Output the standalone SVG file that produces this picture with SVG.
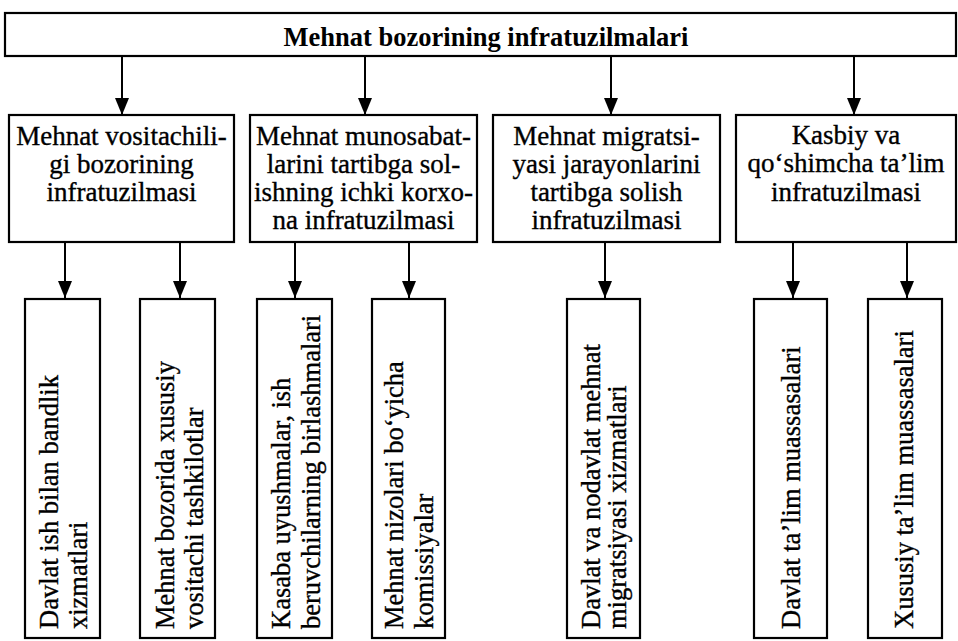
<svg xmlns="http://www.w3.org/2000/svg" width="958" height="641" viewBox="0 0 958 641">
<style>
.box{fill:#fff;stroke:#000;stroke-width:2.2}
.t{font-family:'Liberation Serif','Times New Roman',serif;font-size:27px;fill:#000;stroke:#000;stroke-width:0.35;text-anchor:middle}
.v{font-family:'Liberation Serif','Times New Roman',serif;font-size:26.5px;fill:#000;stroke:#000;stroke-width:0.35}
.title{font-family:'Liberation Serif','Times New Roman',serif;font-size:26.5px;font-weight:bold;fill:#000;text-anchor:middle}
.c{stroke:#000;stroke-width:2;fill:none;marker-end:url(#ah)}
</style>
<defs>
<marker id="ah" markerUnits="userSpaceOnUse" markerWidth="17" markerHeight="14" refX="17" refY="7" orient="auto">
<path d="M0,0 L17,7 L0,14 z" fill="#000"/>
</marker>
</defs>
<rect width="958" height="641" fill="#fff"/>
<g id="connectors">
<line class="c" x1="122" y1="56" x2="122" y2="115"/>
<line class="c" x1="365" y1="56" x2="365" y2="115"/>
<line class="c" x1="611" y1="56" x2="611" y2="115"/>
<line class="c" x1="854" y1="56" x2="854" y2="115"/>
<line class="c" x1="65" y1="242" x2="65" y2="298"/>
<line class="c" x1="180" y1="242" x2="180" y2="298"/>
<line class="c" x1="295" y1="242" x2="295" y2="298"/>
<line class="c" x1="409" y1="242" x2="409" y2="298"/>
<line class="c" x1="605" y1="242" x2="605" y2="298"/>
<line class="c" x1="793" y1="242" x2="793" y2="298"/>
<line class="c" x1="907" y1="242" x2="907" y2="298"/>
</g>
<g id="top">
<rect class="box" x="5" y="13" width="951" height="43"/>
<text class="title" x="486" y="46">Mehnat bozorining infratuzilmalari</text>
</g>
<g id="m1">
<rect class="box" x="9" y="115" width="225" height="127"/>
<text class="t" x="121.5" y="145">Mehnat vositachili-</text>
<text class="t" x="121.5" y="173">gi bozorining</text>
<text class="t" x="121.5" y="201">infratuzilmasi</text>
</g>
<g id="m2">
<rect class="box" x="250" y="115" width="227" height="127"/>
<text class="t" x="363.5" y="145">Mehnat munosabat-</text>
<text class="t" x="363.5" y="173">larini tartibga sol-</text>
<text class="t" x="363.5" y="201">ishning ichki korxo-</text>
<text class="t" x="363.5" y="229">na infratuzilmasi</text>
</g>
<g id="m3">
<rect class="box" x="493" y="115" width="227" height="127"/>
<text class="t" x="606.5" y="145">Mehnat migratsi-</text>
<text class="t" x="606.5" y="173">yasi jarayonlarini</text>
<text class="t" x="606.5" y="201">tartibga solish</text>
<text class="t" x="606.5" y="229">infratuzilmasi</text>
</g>
<g id="m4">
<rect class="box" x="736" y="115" width="220" height="127"/>
<text class="t" x="846" y="144">Kasbiy va</text>
<text class="t" x="846" y="172">qo‘shimcha ta’lim</text>
<text class="t" x="846" y="201">infratuzilmasi</text>
</g>
<g id="bA">
<rect class="box" x="25" y="299" width="75" height="339"/>
<text class="v" transform="translate(58,629) rotate(-90)">Davlat ish bilan bandlik</text>
<text class="v" transform="translate(87,629) rotate(-90)">xizmatlari</text>
</g>
<g id="bB">
<rect class="box" x="140" y="299" width="75" height="339"/>
<text class="v" transform="translate(174,629) rotate(-90)">Mehnat bozorida xususiy</text>
<text class="v" transform="translate(203,629) rotate(-90)">vositachi tashkilotlar</text>
</g>
<g id="bC">
<rect class="box" x="257" y="299" width="75" height="339"/>
<text class="v" transform="translate(290,629) rotate(-90)">Kasaba uyushmalar, ish</text>
<text class="v" transform="translate(320,629) rotate(-90)">beruvchilarning birlashmalari</text>
</g>
<g id="bD">
<rect class="box" x="372" y="299" width="73" height="339"/>
<text class="v" transform="translate(403,629) rotate(-90)">Mehnat nizolari bo‘yicha</text>
<text class="v" transform="translate(433,629) rotate(-90)">komissiyalar</text>
</g>
<g id="bE">
<rect class="box" x="567" y="299" width="73" height="339"/>
<text class="v" transform="translate(600,629) rotate(-90)">Davlat va nodavlat mehnat</text>
<text class="v" transform="translate(626,629) rotate(-90)">migratsiyasi xizmatlari</text>
</g>
<g id="bF">
<rect class="box" x="754" y="299" width="73" height="339"/>
<text class="v" transform="translate(800,629) rotate(-90)">Davlat ta’lim muassasalari</text>
</g>
<g id="bG">
<rect class="box" x="868" y="299" width="74" height="339"/>
<text class="v" transform="translate(913,629) rotate(-90)">Xususiy ta’lim muassasalari</text>
</g>
</svg>
